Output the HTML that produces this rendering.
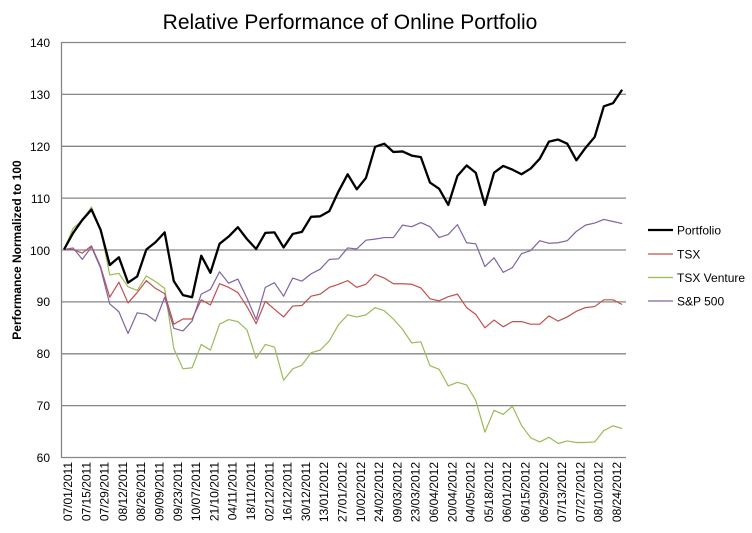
<!DOCTYPE html>
<html><head><meta charset="utf-8"><style>
html,body{margin:0;padding:0;background:#fff}
svg{display:block;font-family:"Liberation Sans",Arial,sans-serif}
</style></head><body>
<svg width="752" height="533" viewBox="0 0 752 533" xmlns="http://www.w3.org/2000/svg">
<rect width="752" height="533" fill="#fff"/>
<text x="350" y="29" font-size="21" text-anchor="middle" fill="#000">Relative Performance of Online Portfolio</text>
<g stroke="#868686" stroke-width="1.3">
<line x1="61.5" y1="42.5" x2="626" y2="42.5"/>
<line x1="61.5" y1="94.4" x2="626" y2="94.4"/>
<line x1="61.5" y1="146.3" x2="626" y2="146.3"/>
<line x1="61.5" y1="198.1" x2="626" y2="198.1"/>
<line x1="61.5" y1="250" x2="626" y2="250"/>
<line x1="61.5" y1="301.9" x2="626" y2="301.9"/>
<line x1="61.5" y1="353.8" x2="626" y2="353.8"/>
<line x1="61.5" y1="405.6" x2="626" y2="405.6"/>
<line x1="61.5" y1="457.5" x2="626" y2="457.5"/>
<line x1="61.5" y1="42" x2="61.5" y2="458"/>
</g>
<g font-size="12" text-anchor="end" fill="#000">
<text x="50" y="47">140</text><text x="50" y="99">130</text><text x="50" y="151">120</text>
<text x="50" y="203">110</text><text x="50" y="255">100</text><text x="50" y="306">90</text>
<text x="50" y="358">80</text><text x="50" y="410">70</text><text x="50" y="462">60</text>
</g>
<text transform="translate(21,250) rotate(-90)" font-size="12" font-weight="bold" text-anchor="middle">Performance Normalized to 100</text>
<g font-size="12" text-anchor="end" fill="#000">
<text transform="translate(72,462) rotate(-90)">07/01/2011</text>
<text transform="translate(90.3,462) rotate(-90)">07/15/2011</text>
<text transform="translate(108.6,462) rotate(-90)">07/29/2011</text>
<text transform="translate(126.9,462) rotate(-90)">08/12/2011</text>
<text transform="translate(145.2,462) rotate(-90)">08/26/2011</text>
<text transform="translate(163.5,462) rotate(-90)">09/09/2011</text>
<text transform="translate(181.8,462) rotate(-90)">09/23/2011</text>
<text transform="translate(200.1,462) rotate(-90)">10/07/2011</text>
<text transform="translate(218.4,462) rotate(-90)">21/10/2011</text>
<text transform="translate(236.7,462) rotate(-90)">04/11/2011</text>
<text transform="translate(255,462) rotate(-90)">18/11/2011</text>
<text transform="translate(273.3,462) rotate(-90)">02/12/2011</text>
<text transform="translate(291.6,462) rotate(-90)">16/12/2011</text>
<text transform="translate(309.9,462) rotate(-90)">30/12/2011</text>
<text transform="translate(328.2,462) rotate(-90)">13/01/2012</text>
<text transform="translate(346.5,462) rotate(-90)">27/01/2012</text>
<text transform="translate(364.8,462) rotate(-90)">10/02/2012</text>
<text transform="translate(383.1,462) rotate(-90)">24/02/2012</text>
<text transform="translate(401.4,462) rotate(-90)">09/03/2012</text>
<text transform="translate(419.7,462) rotate(-90)">23/03/2012</text>
<text transform="translate(438,462) rotate(-90)">06/04/2012</text>
<text transform="translate(456.3,462) rotate(-90)">20/04/2012</text>
<text transform="translate(474.6,462) rotate(-90)">04/05/2012</text>
<text transform="translate(492.9,462) rotate(-90)">05/18/2012</text>
<text transform="translate(511.2,462) rotate(-90)">06/01/2012</text>
<text transform="translate(529.5,462) rotate(-90)">06/15/2012</text>
<text transform="translate(547.8,462) rotate(-90)">06/29/2012</text>
<text transform="translate(566.1,462) rotate(-90)">07/13/2012</text>
<text transform="translate(584.4,462) rotate(-90)">07/27/2012</text>
<text transform="translate(602.7,462) rotate(-90)">08/10/2012</text>
<text transform="translate(621,462) rotate(-90)">08/24/2012</text>
</g>
<g transform="translate(64,768.25) scale(9.15,-5.1875)" fill="none" stroke-linejoin="round">
<polyline vector-effect="non-scaling-stroke" stroke="#9bbb59" stroke-width="1.2" points="0,100 1,104.1 2,105.6 3,108.2 4,103.9 5,95.1 6,95.4 7,92.8 8,92.1 9,94.9 10,93.8 11,92.5 12,80.9 13,77 14,77.2 15,81.7 16,80.6 17,85.6 18,86.5 19,86.1 20,84.5 21,79 22,81.7 23,81.2 24,74.8 25,77 26,77.7 27,80.1 28,80.6 29,82.4 30,85.5 31,87.4 32,87 33,87.4 34,88.8 35,88.2 36,86.6 37,84.6 38,82 39,82.2 40,77.6 41,76.9 42,73.7 43,74.4 44,73.9 45,70.9 46,64.8 47,69 48,68.2 49,69.8 50,66.1 51,63.7 52,62.9 53,63.8 54,62.6 55,63.1 56,62.8 57,62.8 58,62.9 59,65.1 60,66 61,65.5"/>
<polyline vector-effect="non-scaling-stroke" stroke="#c0504d" stroke-width="1.2" points="0,100 1,100 2,99.3 3,100.7 4,96.7 5,90.8 6,93.7 7,89.7 8,91.7 9,94 10,92.5 11,91.5 12,85.6 13,86.6 14,86.6 15,90.3 16,89.3 17,93.4 18,92.7 19,91.7 20,89 21,85.7 22,90 23,88.5 24,87 25,89.1 26,89.2 27,91 28,91.4 29,92.7 30,93.3 31,94 32,92.7 33,93.3 34,95.2 35,94.5 36,93.4 37,93.4 38,93.3 39,92.6 40,90.5 41,90.1 42,90.9 43,91.4 44,88.8 45,87.5 46,84.9 47,86.4 48,85.1 49,86.1 50,86.1 51,85.6 52,85.6 53,87.2 54,86.2 55,87 56,88.1 57,88.8 58,89 59,90.3 60,90.3 61,89.4"/>
<polyline vector-effect="non-scaling-stroke" stroke="#8064a2" stroke-width="1.2" points="0,100 1,100.3 2,98.1 3,100.5 4,96.4 5,89.5 6,88 7,83.8 8,87.8 9,87.5 10,86.2 11,90.8 12,84.8 13,84.3 14,86.2 15,91.4 16,92.3 17,95.7 18,93.5 19,94.3 20,90.6 21,86.5 22,92.7 23,93.6 24,91 25,94.5 26,93.9 27,95.3 28,96.2 29,98.1 30,98.2 31,100.3 32,100.1 33,101.8 34,102 35,102.3 36,102.3 37,104.7 38,104.4 39,105.2 40,104.4 41,102.3 42,102.9 43,104.8 44,101.3 45,101.1 46,96.7 47,98.4 48,95.6 49,96.5 50,99.2 51,99.8 52,101.7 53,101.2 54,101.3 55,101.7 56,103.5 57,104.7 58,105.1 59,105.8 60,105.4 61,105"/>
<polyline vector-effect="non-scaling-stroke" stroke="#000" stroke-width="2.3" points="0,100 1,103.2 2,105.7 3,107.7 4,103.8 5,97 6,98.5 7,93.6 8,94.8 9,100 10,101.4 11,103.3 12,93.9 13,91.2 14,90.8 15,98.8 16,95.5 17,101.1 18,102.5 19,104.3 20,102 21,100.1 22,103.2 23,103.3 24,100.4 25,103 26,103.4 27,106.3 28,106.4 29,107.4 30,111.2 31,114.5 32,111.6 33,113.8 34,119.8 35,120.4 36,118.8 37,118.9 38,118.1 39,117.8 40,112.9 41,111.7 42,108.6 43,114.2 44,116.2 45,114.8 46,108.6 47,114.8 48,116.1 49,115.4 50,114.5 51,115.6 52,117.5 53,120.8 54,121.2 55,120.4 56,117.2 57,119.6 58,121.7 59,127.6 60,128.2 61,130.8"/>
</g>
<g font-size="12" fill="#000">
<line x1="648" y1="230" x2="673" y2="230" stroke="#000" stroke-width="2.3"/>
<text x="677" y="234.5">Portfolio</text>
<line x1="648" y1="254" x2="673" y2="254" stroke="#c0504d" stroke-width="1.2"/>
<text x="677" y="258.5">TSX</text>
<line x1="648" y1="277.5" x2="673" y2="277.5" stroke="#9bbb59" stroke-width="1.2"/>
<text x="677" y="282">TSX Venture</text>
<line x1="648" y1="301" x2="673" y2="301" stroke="#8064a2" stroke-width="1.2"/>
<text x="677" y="305.5">S&amp;P 500</text>
</g>
</svg>
</body></html>
